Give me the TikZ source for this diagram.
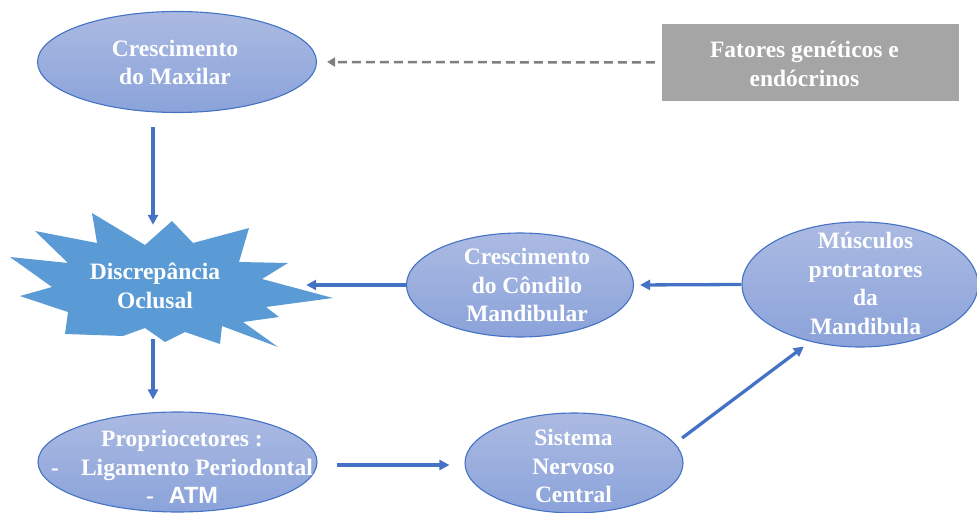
\documentclass[tikz,border=0pt]{standalone}
\usepackage{fontspec}
\setmainfont{Liberation Serif}
\newfontfamily\arialfont{Liberation Sans}
\usetikzlibrary{arrows.meta,shapes.geometric,calc}
\definecolor{bord}{HTML}{4472C4}
\definecolor{elTop}{HTML}{ABBAE2}
\definecolor{elBot}{HTML}{8BA3DA}
\definecolor{starfill}{HTML}{5B9BD5}
\definecolor{boxgray}{HTML}{A5A5A5}
\definecolor{dashgray}{HTML}{7F7F7F}
\begin{document}
\begin{tikzpicture}[x=1pt,y=-1pt,
  oval/.style={ellipse, draw=bord, line width=1.1pt, top color=elTop, bottom color=elBot, inner sep=0pt},
  txt/.style={text=white, font=\fontsize{23.5}{28.7}\selectfont\bfseries, align=center, inner sep=0pt},
  arr/.style={draw=bord, line width=3.3pt, -{Triangle[length=10pt,width=10pt]}},
  dasharr/.style={draw=dashgray, line width=2.5pt, dash pattern=on 9pt off 5pt, -{Triangle[length=8pt,width=9pt]}},
  graybox/.style={rectangle, fill=boxgray, inner sep=0pt}]
\useasboundingbox (0,0) rectangle (977,513);

% ellipses
\node[oval, minimum width=279pt, minimum height=101pt] (maxilar) at (177,62) {};
\node[oval, minimum width=227pt, minimum height=104pt] (condilo) at (520,285) {};
\node[oval, minimum width=236pt, minimum height=125pt] (musculos) at (860,284.5) {};
\node[oval, minimum width=279pt, minimum height=100pt] (proprio) at (177.5,462) {};
\node[oval, minimum width=218pt, minimum height=100pt] (snc) at (574,463) {};
\node[graybox, minimum width=297pt, minimum height=77pt] (fatores) at (810.5,62.5) {};

% star
\fill[starfill] (92,213) -- (145,245) -- (172,221) -- (193,243) -- (249,228) -- (239,262)
  -- (288,263) -- (262,279) -- (333,298) -- (266,307) -- (279,317) -- (243,322)
  -- (278,347) -- (222,326) -- (220,344) -- (185,332) -- (165,342) -- (145,328)
  -- (123,336) -- (65,334) -- (68,312) -- (20,296) -- (52,287) -- (10,257)
  -- (68,263) -- (35,231) -- (97,243) -- cycle;
\node[minimum width=306pt, minimum height=114pt, inner sep=0pt] (disc) at (153,282) {};

% texts
\node[txt] (tmax) at (175,62.5) {Crescimento\\do Maxilar};
\node[txt] (tfat) at (804.5,64) {Fatores genéticos e\\endócrinos};
\node[txt] (tdisc) at (155,286) {Discrepância\\Oclusal};
\node[txt] (tcond) at (527,285) {Crescimento\\do Côndilo\\Mandibular};
\node[txt] (tmus) at (865.5,283.5) {Músculos\\protratores\\da\\Mandibula};
\node[txt] (tsnc) at (573.5,466) {Sistema\\Nervoso\\Central};
\node[txt] (tprop) at (182,467) {Propriocetores :\\-\hspace{22pt}Ligamento Periodontal\\-\hspace{15pt}{\arialfont\bfseries ATM}};

% connectors
\draw[dasharr, shorten <=7pt, shorten >=10pt] (fatores.west) -- (maxilar.east);
\draw[arr] ([xshift=-24pt,yshift=-14pt]maxilar.south) -- (disc.north);
\draw[arr] (condilo.west) -- (condilo.west -| disc.east);
\draw[arr, shorten >=6pt] (musculos.west) -- (condilo.east);
\draw[arr, shorten >=12pt] (disc.south) -- (disc.south |- proprio.north);
\draw[arr, shorten <=19pt, shorten >=15pt] ([yshift=-3pt]proprio.east) -- ([yshift=-2pt]snc.west);
\draw[arr, shorten <=9pt, shorten >=8pt] (snc.11) -- (musculos.229);
\end{tikzpicture}
\end{document}
